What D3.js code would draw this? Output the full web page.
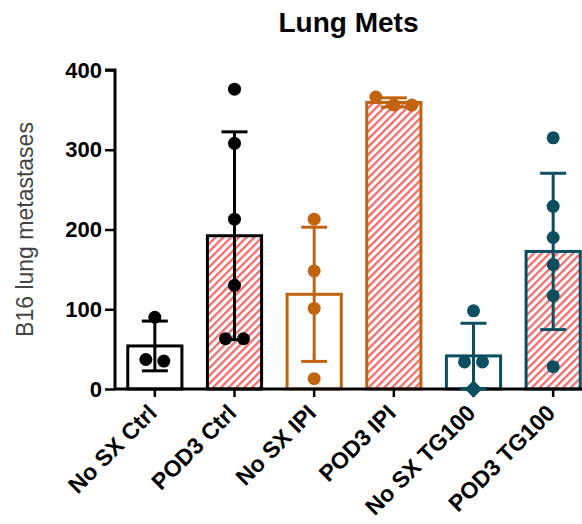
<!DOCTYPE html>
<html>
<head>
<meta charset="utf-8">
<script src="https://cdn.jsdelivr.net/npm/d3@7"></script>
<style>
  body { margin: 0; background: #fff; }
  svg { display: block; font-family: "Liberation Sans", Arial, sans-serif; }
</style>
</head>
<body>
<svg id="chart" width="582" height="524"></svg>
<script>
// groups along the x axis
const groups = ["No SX Ctrl", "POD3 Ctrl", "No SX IPI", "POD3 IPI", "No SX TG100", "POD3 TG100"];

// individual animals per group (lung metastases counts)
const noSxCtrl = [90, 37, 35];
const pod3Ctrl = [376, 308, 213, 130, 63, 63];
const noSxIpi = [213, 148, 101, 13];
const pod3Ipi = [366, 356, 356];
const noSxTg100 = [98, 34, 34, 0];
const pod3Tg100 = [315, 229, 190, 156, 117, 28];

const yTicks = [0, 100, 200, 300, 400];

// styling per group
const groupColors = ["#000000", "#000000", "#c2630f", "#c2630f", "#0c4f60", "#0c4f60"];
const groupHatched = [false, true, false, true, false, true];

const allPoints = [noSxCtrl, pod3Ctrl, noSxIpi, pod3Ipi, noSxTg100, pod3Tg100];

const svg = d3.select("#chart");
const margin = {left: 115, top: 70, bottom: 389};
const r = 6.5;

const x = d3.scaleBand()
    .domain(groups)
    .range([margin.left, margin.left + 478])
    .paddingInner(0.32)
    .paddingOuter(0.16);

const y = d3.scaleLinear()
    .domain([0, 400])
    .range([margin.bottom, margin.top]);

// hatch pattern
const defs = svg.append("defs");
defs.append("pattern")
    .attr("id", "hatch")
    .attr("patternUnits", "userSpaceOnUse")
    .attr("width", 5.5)
    .attr("height", 5.5)
    .attr("patternTransform", "rotate(45)")
    .call(p => {
        p.append("rect").attr("width", 5.5).attr("height", 5.5).attr("fill", "#fff");
        p.append("line").attr("x1", 1.2).attr("y1", 0).attr("x2", 1.2).attr("y2", 5.5)
            .attr("stroke", "#f26a6a").attr("stroke-width", 2.3);
    });

const data = groups.map((g, i) => {
    const vals = allPoints[i];
    return {
        name: g,
        values: vals,
        mean: d3.mean(vals),
        sd: d3.deviation(vals),
        color: groupColors[i],
        hatched: groupHatched[i]
    };
});

// bars
svg.append("g").selectAll("rect")
    .data(data)
    .enter()
    .append("rect")
    .attr("x", d => x(d.name))
    .attr("y", d => y(d.mean))
    .attr("width", x.bandwidth())
    .attr("height", d => y(0) - y(d.mean))
    .attr("fill", d => d.hatched ? "url(#hatch)" : "#fff")
    .attr("stroke", d => d.color)
    .attr("stroke-width", 3);

// axes
const yAxis = svg.append("g")
    .attr("transform", `translate(${margin.left},0)`)
    .call(d3.axisLeft(y).tickValues(yTicks).tickSize(10).tickPadding(3));

const xAxis = svg.append("g")
    .attr("transform", `translate(0,${margin.bottom})`)
    .call(d3.axisBottom(x).tickSize(8).tickFormat(""));

[yAxis, xAxis].forEach(a => {
    a.select(".domain").attr("stroke", "#000").attr("stroke-width", 3);
    a.selectAll(".tick line").attr("stroke", "#000").attr("stroke-width", 2.5);
});
yAxis.select(".domain").attr("d", `M-10,${y(400)}H0V${y(0)}`);
xAxis.select(".domain").attr("d", `M${margin.left},0H582`);

yAxis.selectAll(".tick text")
    .attr("font-size", 22)
    .attr("font-weight", "bold")
    .attr("fill", "#000");

// rotated category labels
svg.append("g").selectAll("text")
    .data(groups)
    .enter()
    .append("text")
    .attr("transform", d => `translate(${x(d) + x.bandwidth() / 2 - 8},${margin.bottom + 14}) rotate(-45)`)
    .attr("text-anchor", "end")
    .attr("dy", "0.7em")
    .attr("font-size", 23)
    .attr("font-weight", "bold")
    .text(d => d);

// error bars (mean ± SD)
const err = svg.append("g").selectAll("g")
    .data(data)
    .enter()
    .append("g")
    .attr("stroke", d => d.color)
    .attr("stroke-width", 3);

err.append("line")
    .attr("x1", d => x(d.name) + x.bandwidth() / 2)
    .attr("x2", d => x(d.name) + x.bandwidth() / 2)
    .attr("y1", d => y(d.mean + d.sd))
    .attr("y2", d => y(Math.max(0, d.mean - d.sd)));

err.append("line")
    .attr("x1", d => x(d.name) + x.bandwidth() / 2 - 13)
    .attr("x2", d => x(d.name) + x.bandwidth() / 2 + 13)
    .attr("y1", d => y(d.mean + d.sd))
    .attr("y2", d => y(d.mean + d.sd));

err.filter(d => d.mean - d.sd > 0)
    .append("line")
    .attr("x1", d => x(d.name) + x.bandwidth() / 2 - 13)
    .attr("x2", d => x(d.name) + x.bandwidth() / 2 + 13)
    .attr("y1", d => y(d.mean - d.sd))
    .attr("y2", d => y(d.mean - d.sd));

// scatter points, spread sideways where they would overlap
const pts = [];
data.forEach(d => {
    const cx = x(d.name) + x.bandwidth() / 2;
    const sorted = d.values.slice().sort((a, b) => b - a);
    let clusters = [];
    sorted.forEach(v => {
        const last = clusters[clusters.length - 1];
        if (last && y(v) - y(last[last.length - 1]) < 2 * r) last.push(v);
        else clusters.push([v]);
    });
    clusters.forEach(c => {
        c.forEach((v, k) => {
            pts.push({v: v, cx: cx + (k - (c.length - 1) / 2) * 18, color: d.color});
        });
    });
});

svg.append("g").selectAll("path")
    .data(pts)
    .enter()
    .append("path")
    .attr("transform", d => `translate(${d.cx},${y(d.v)})`)
    .attr("d", d => d.v === 0
        ? d3.symbol(d3.symbolDiamond2, 190)()
        : d3.symbol(d3.symbolCircle, Math.PI * r * r)())
    .attr("fill", d => d.color);

// title
svg.append("text")
    .attr("x", (margin.left + 582) / 2)
    .attr("y", 32)
    .attr("text-anchor", "middle")
    .attr("font-size", 28)
    .attr("font-weight", "bold")
    .text("Lung Mets");

// y axis title
svg.append("text")
    .attr("transform", `translate(33,${(y(0) + y(400)) / 2}) rotate(-90)`)
    .attr("text-anchor", "middle")
    .attr("font-size", 23)
    .attr("fill", "#444")
    .text("B16 lung metastases");
</script>
</body>
</html>
